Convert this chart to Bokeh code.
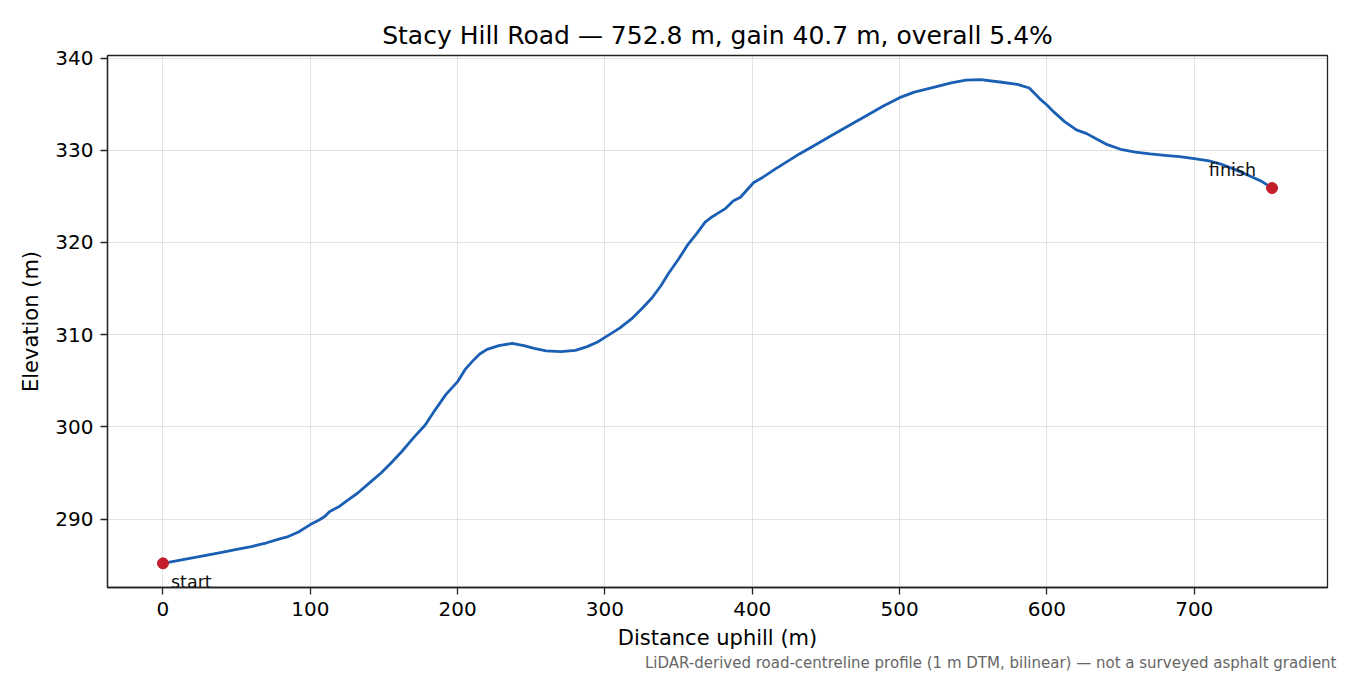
from bokeh.plotting import figure
from bokeh.models import Range1d, Title, FixedTicker
from bokeh.core.properties import value
from bokeh.embed import file_html
from bokeh.resources import INLINE

# distance along the road (m) and elevation (m)
distancia = [0, 10, 20, 30, 40, 50, 60, 66, 70, 78, 85, 92, 100, 106, 110, 113,
             120, 125, 132, 140, 148, 155, 162, 170, 178, 185, 192, 200, 205,
             210, 215, 220, 228, 237, 245, 252, 260, 270, 280, 288, 295, 300,
             310, 318, 325, 332, 338, 343, 350, 356, 362, 368, 372, 376, 382,
             387, 392, 397, 401, 407, 416, 425, 432, 443, 455, 466, 478, 489,
             500, 510, 525, 535, 545, 555, 568, 580, 588, 595, 600, 605, 612,
             620, 627, 634, 641, 650, 660, 670, 680, 690, 700, 710, 718, 727,
             735, 740, 746, 752.8]
elevacao = [285.2, 285.5, 285.8, 286.1, 286.4, 286.7, 287.0, 287.25, 287.4,
            287.8, 288.1, 288.6, 289.4, 289.9, 290.3, 290.8, 291.4, 292.0,
            292.8, 293.9, 295.0, 296.1, 297.3, 298.8, 300.2, 301.9, 303.5,
            304.9, 306.2, 307.1, 307.9, 308.4, 308.8, 309.05, 308.8, 308.5,
            308.25, 308.15, 308.3, 308.7, 309.2, 309.7, 310.7, 311.7, 312.8,
            314.0, 315.3, 316.6, 318.2, 319.7, 320.9, 322.2, 322.7, 323.1,
            323.7, 324.5, 324.9, 325.8, 326.5, 327.05, 328.0, 328.9, 329.6,
            330.6, 331.7, 332.7, 333.8, 334.8, 335.7, 336.3, 336.9, 337.3,
            337.6, 337.65, 337.4, 337.15, 336.75, 335.6, 334.9, 334.1, 333.1,
            332.2, 331.8, 331.2, 330.6, 330.1, 329.8, 329.6, 329.45, 329.3,
            329.1, 328.85, 328.5, 327.95, 327.4, 327.05, 326.6, 325.9]

rotulos = ["start", "finish"]
x_ticks = [0, 100, 200, 300, 400, 500, 600, 700]
y_ticks = [290, 300, 310, 320, 330, 340]

titulo = "Stacy Hill Road \u2014 752.8 m, gain 40.7 m, overall 5.4%"
nota = "LiDAR-derived road-centreline profile (1 m DTM, bilinear) \u2014 not a surveyed asphalt gradient"

FONTE = "DejaVu Sans"


def margem(vals, frac=0.05):
    lo, hi = min(vals), max(vals)
    d = (hi - lo) * frac
    return lo - d, hi + d


x0, x1 = margem(distancia)
y0, y1 = margem(elevacao)

p = figure(width=1350, height=675, output_backend="svg", toolbar_location=None,
           x_range=Range1d(x0, x1), y_range=Range1d(y0, y1),
           min_border_left=107, min_border_right=23, min_border_top=55,
           min_border_bottom=88)

p.title.text = titulo
p.title.align = "center"
p.title.text_font = FONTE
p.title.text_font_size = "25px"
p.title.text_font_style = "normal"
p.title.text_color = "black"
p.title.standoff = 12

p.outline_line_color = "#222222"
p.outline_line_width = 1.3
p.outline_line_alpha = 1

for eixo in (p.xaxis, p.yaxis):
    eixo.axis_line_color = "#222222"
    eixo.axis_line_width = 1.3
    eixo.major_tick_line_color = "#222222"
    eixo.major_tick_line_width = 1.3
    eixo.major_tick_out = 7
    eixo.major_tick_in = 0
    eixo.minor_tick_line_color = None
    eixo.major_label_text_font = FONTE
    eixo.major_label_text_font_size = "20px"
    eixo.major_label_text_color = "black"
    eixo.axis_label_text_font = FONTE
    eixo.axis_label_text_font_size = "21px"
    eixo.axis_label_text_font_style = "normal"
    eixo.axis_label_text_color = "black"
    eixo.major_label_standoff = 7

p.xaxis.ticker = FixedTicker(ticks=x_ticks)
p.yaxis.ticker = FixedTicker(ticks=y_ticks)
p.xaxis.axis_label = "Distance uphill (m)"
p.yaxis.axis_label = "Elevation (m)"
p.xaxis.axis_label_standoff = 7
p.yaxis.axis_label_standoff = 9

p.grid.grid_line_color = "#b0b0b0"
p.grid.grid_line_alpha = 0.35
p.grid.grid_line_width = 1

p.line(distancia, elevacao, line_color="#1a5fb4", line_width=2.8)

px = [distancia[0], distancia[-1]]
py = [elevacao[0], elevacao[-1]]
p.scatter(px, py, size=11, color="#c41e2a")

p.text([px[0]], [py[0]], text=[rotulos[0]], x_offset=8, y_offset=19,
       text_font=value(FONTE), text_font_size="17.5px", text_color="#111111",
       text_baseline="middle", text_align="left")
p.text([px[1]], [py[1]], text=[rotulos[1]], x_offset=-16, y_offset=-18,
       text_font=value(FONTE), text_font_size="17.5px", text_color="#111111",
       text_baseline="middle", text_align="right")

rodape = Title(text=nota, align="right", offset=-9, text_font=FONTE,
               text_font_size="15px", text_font_style="normal",
               text_color="#666666", standoff=-2)
p.add_layout(rodape, "below")

open("out.html", "w").write(file_html(p, INLINE))
